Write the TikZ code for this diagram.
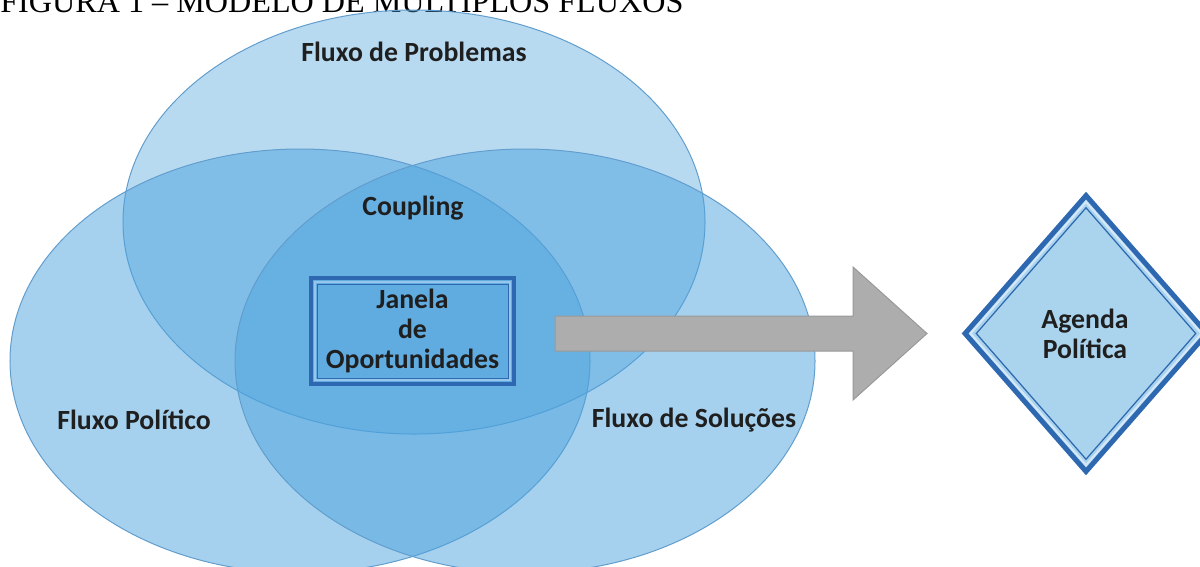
\documentclass[tikz,border=0pt]{standalone}
\usepackage{fontspec}
\setmainfont{Carlito}
\newfontfamily\capfont[Ligatures=TeX]{Liberation Serif}
\usetikzlibrary{shapes.geometric}

\definecolor{flowblue}{RGB}{76,162,221}
\definecolor{flowline}{RGB}{98,158,205}
\definecolor{framedark}{RGB}{46,104,176}
\definecolor{framelight}{RGB}{150,198,234}
\definecolor{boxfill}{RGB}{96,171,224}
\definecolor{agendafill}{RGB}{170,211,237}
\definecolor{arrowgray}{RGB}{173,173,173}

\tikzset{
  flow/.style={draw=flowline, line width=0.2mm, fill=flowblue},
  flowlabel/.style={font=\fontsize{15.8}{17}\selectfont\bfseries, text=black!88, inner sep=0pt, align=center},
}

\begin{document}
\begin{tikzpicture}[x=0.2mm,y=-0.2mm]
            \path[use as bounding box] (0,0) rectangle (1200,566);
            \clip (0,0) rectangle (1200,566);
            % caption, cut at the top edge
            \node[anchor=base west, inner sep=0pt, font=\capfont\fontsize{18.3}{20}\selectfont] (caption) at (0,12) {FIGURA 1 – MODELO DE MÚLTIPLOS FLUXOS};
            % the three streams
            \draw[flow, fill opacity=0.4] (414,222) ellipse [x radius=58.2mm, y radius=42.4mm];
            \draw[flow, fill opacity=0.5] (300,361) ellipse [x radius=58mm, y radius=42.4mm];
            \draw[flow, fill opacity=0.5] (525,361) ellipse [x radius=58mm, y radius=42.4mm];
            \node[flowlabel] (prob) at (414,52) {Fluxo de Problemas};
            \node[flowlabel] (pol) at (134,420) {Fluxo Político};
            \node[flowlabel] (sol) at (694,420) {Fluxo de Soluções};
            \node[flowlabel] (coupling) at (413,208) {Coupling};
            % window of opportunities
            \node[draw=framedark, line width=0.8mm, fill=boxfill, minimum width=40.6mm, minimum height=21.2mm, inner sep=0pt] (janela) at (412.5,331) {};
            \node[draw=framelight, line width=0.4mm, minimum width=39mm, minimum height=19.6mm, inner sep=0pt] (janela-mid) at (janela.center) {};
            \node[draw=framedark, line width=0.2mm, minimum width=38.2mm, minimum height=18.8mm, inner sep=0pt] (janela-in) at (janela.center) {};
            \node[flowlabel] (janela-txt) at (janela.center) {Janela\\de\\Oportunidades};
            % big arrow
            \filldraw[fill=arrowgray, draw=black!40, line width=0.2mm] (555,316) -- (853,316) -- (853,267) -- (927,333.5) -- (853,400) -- (853,351) -- (555,351) -- cycle;
            % policy agenda
            \node[diamond, draw=framedark, line width=1mm, fill=agendafill, minimum width=48.8mm, minimum height=55.6mm, inner sep=0pt] (agenda) at (1086,333.5) {};
            \node[diamond, draw=white!60!framelight, line width=0.4mm, minimum width=46.4mm, minimum height=52.8mm, inner sep=0pt] (agenda-mid) at (agenda.center) {};
            \node[diamond, draw=framedark, line width=0.25mm, minimum width=44mm, minimum height=50.4mm, inner sep=0pt] (agenda-in) at (agenda.center) {};
            \node[flowlabel] (agenda-txt) at (1085,333.5) {Agenda\\Política};
        \end{tikzpicture}
\end{document}
